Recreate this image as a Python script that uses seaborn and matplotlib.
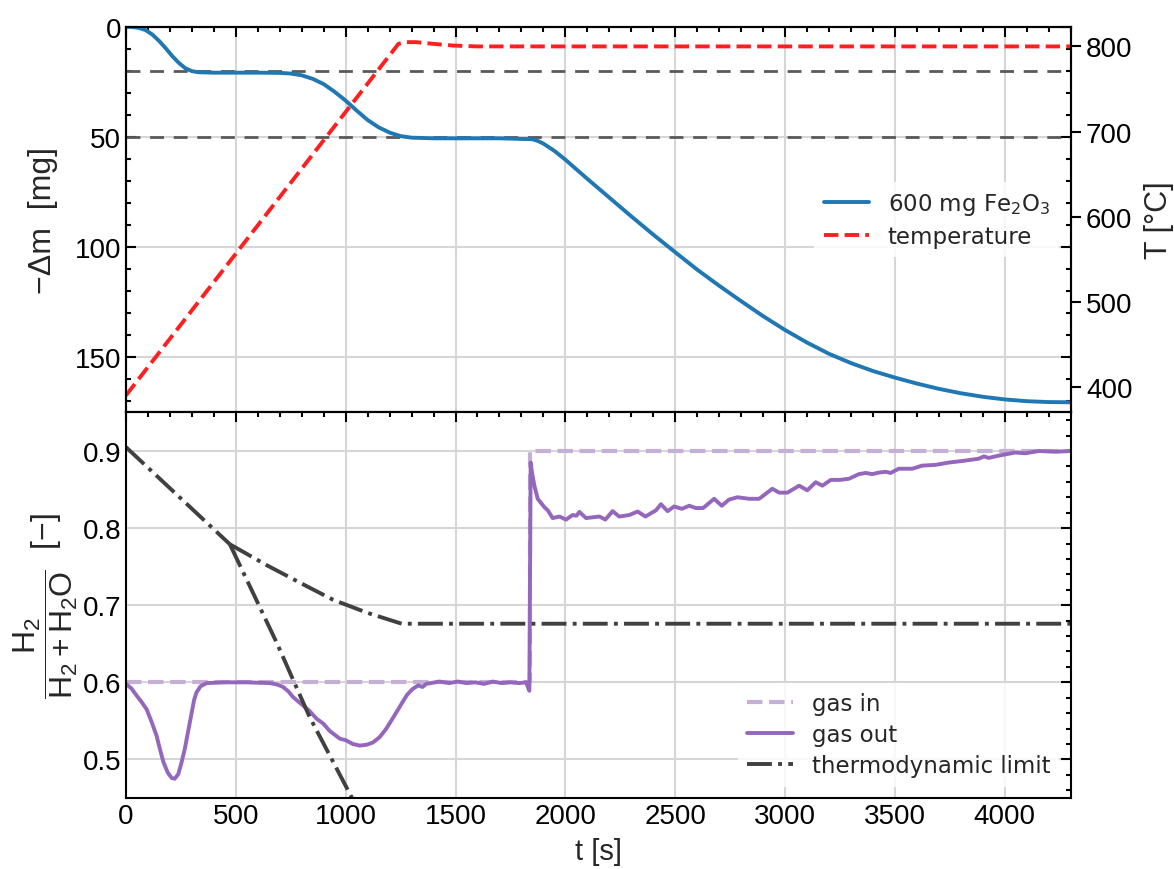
import matplotlib
matplotlib.use("Agg")
import matplotlib.pyplot as plt
from matplotlib.font_manager import FontProperties
from matplotlib.ticker import MultipleLocator
import pandas as pd
import seaborn as sns

# ---------------- data ----------------
# mass loss of the sample [mg]
t_mass = [0, 30, 60, 90, 120, 150, 180, 210, 240, 270, 300, 330, 400, 500, 600, 700,
          750, 800, 850, 900, 950, 1000, 1050, 1100, 1150, 1200, 1250, 1300, 1400, 1500,
          1700, 1850, 1875, 1900, 1950, 2000, 2100, 2200, 2300, 2400, 2500, 2600, 2700,
          2800, 2900, 3000, 3100, 3200, 3300, 3400, 3500, 3600, 3700, 3800, 3900, 4000,
          4100, 4200, 4300]
dm = [0, 0.1, 0.5, 1.5, 3.5, 6.3, 9.6, 13.2, 16.3, 18.8, 20.1, 20.6, 20.8, 20.8, 20.8,
      20.9, 21.2, 22, 23.6, 26, 29.5, 33.5, 38, 42.3, 45.6, 48, 49.6, 50.3, 50.6, 50.6,
      50.6, 51, 51.8, 53, 56.3, 60.3, 69, 77.5, 86, 94.3, 102.3, 110.2, 117.5,
      124.5, 131.3, 137.6, 143.3, 148.4, 152.6, 156.2, 159.2, 161.9, 164.3, 166.3, 167.9, 169.1,
      169.9, 170.3, 170.4]
ref_levels = [20, 50]

# furnace temperature [°C]
t_temp = [0, 1240, 1270, 1320, 1400, 1490, 1600, 4300]
temp = [390, 803, 805, 805, 803, 801, 800, 800]

# gas composition H2/(H2+H2O)
t_in = [0, 1838, 1838, 4300]
gas_in = [0.6, 0.6, 0.9, 0.9]

t_out = [0, 25, 48, 70, 94, 115, 139, 155, 170, 190, 208, 222, 238, 252, 268, 284, 299,
         310, 321, 340, 367, 450, 550, 655, 690, 715, 740, 760, 785, 806, 835, 867, 900,
         927, 950, 973, 1000, 1033, 1064, 1095, 1124, 1155, 1185, 1220, 1258, 1280, 1303,
         1330, 1350, 1367, 1427, 1470, 1510, 1550, 1590, 1630, 1670, 1710,
         1750, 1790, 1821, 1836, 1842, 1848, 1859, 1874, 1905, 1920, 1942, 1973, 2003,
         2033, 2050, 2064, 2094, 2125, 2155, 2182, 2215, 2245, 2270, 2291, 2329, 2364,
         2412, 2435, 2465, 2495, 2530, 2564, 2594, 2627, 2677, 2712, 2745, 2783, 2836,
         2882, 2942, 2973, 3011, 3064, 3101, 3139, 3170, 3208, 3250, 3291, 3336, 3367,
         3397, 3427, 3458, 3480, 3518, 3579, 3624, 3685, 3745, 3806, 3882, 3905, 3927,
         3973, 4048, 4094, 4155, 4230, 4300]
gas_out = [0.598, 0.592, 0.583, 0.575, 0.565, 0.550, 0.531, 0.513, 0.497, 0.483, 0.476,
           0.475, 0.481, 0.495, 0.514, 0.538, 0.561, 0.577, 0.587, 0.595, 0.599, 0.600,
           0.600, 0.599, 0.597, 0.594, 0.588, 0.581, 0.575, 0.570, 0.563, 0.553, 0.546,
           0.537, 0.532, 0.527, 0.525, 0.520, 0.518, 0.519, 0.522, 0.529, 0.540, 0.556,
           0.574, 0.584, 0.591, 0.596, 0.594, 0.598, 0.601, 0.599, 0.601, 0.599, 0.600,
           0.598, 0.601, 0.599, 0.600, 0.599, 0.600, 0.589, 0.885, 0.872, 0.855, 0.838,
           0.827, 0.823, 0.813, 0.815, 0.811, 0.817, 0.816, 0.821, 0.813, 0.814, 0.815,
           0.811, 0.822, 0.815, 0.816, 0.817, 0.8215, 0.815, 0.823, 0.831, 0.822, 0.828,
           0.825, 0.829, 0.826, 0.826, 0.838, 0.829, 0.837, 0.840, 0.838, 0.838, 0.851,
           0.846, 0.846, 0.855, 0.849, 0.8595, 0.855, 0.8625, 0.8625, 0.864, 0.870,
           0.8715, 0.870, 0.872, 0.873, 0.8715, 0.877, 0.877, 0.881, 0.882, 0.885, 0.887,
           0.890, 0.893, 0.891, 0.894, 0.898, 0.897, 0.900, 0.899, 0.900]

# thermodynamic limit, three branches
t_lim0 = [0, 473]
lim0 = [0.905, 0.779]
t_limA = [473, 640, 800, 943, 1100, 1255, 4300]
limA = [0.779, 0.752, 0.728, 0.707, 0.690, 0.676, 0.676]
t_limB = [473, 685, 836, 1018, 1045]
limB = [0.779, 0.652, 0.555, 0.456, 0.441]

# ---------------- style ----------------
sns.set_theme(style="whitegrid")
plt.rcParams["font.family"] = ["Liberation Sans", "DejaVu Sans"]
plt.rcParams.update({
    "axes.edgecolor": "black",
    "axes.linewidth": 1.5,
    "grid.color": "#d6d6d6",
    "grid.linewidth": 1.5,
    "xtick.color": "black",
    "ytick.color": "black",
    "xtick.labelsize": 20,
    "ytick.labelsize": 20,
    "axes.labelsize": 21,
    "mathtext.fontset": "custom",
    "mathtext.rm": "Liberation Sans",
    "mathtext.it": "Liberation Sans:italic",
    "mathtext.bf": "Liberation Sans:bold",
})

fig, (ax, axb) = plt.subplots(2, 1, figsize=(11.74, 8.7), dpi=100, sharex=True)
fig.subplots_adjust(left=0.1073, right=0.912, top=0.968, bottom=0.0816, hspace=0)

legend_font = FontProperties(family="DejaVu Sans", size=16.5, math_fontfamily="dejavusans")

# ---------------- top panel ----------------
mass_df = pd.DataFrame({"t": t_mass, "dm": dm})
for lvl in ref_levels:
    ax.axhline(lvl, color="0.35", lw=2, ls=(0, (5, 3.5)), zorder=2)
sns.lineplot(data=mass_df, x="t", y="dm", ax=ax, color="#1f77b4", lw=2.8,
             estimator=None, sort=False, legend=False, zorder=3)
blue_line = ax.lines[-1]

ax.set_ylim(175, 0)
ax.set_yticks([0, 50, 100, 150])
ax.yaxis.set_minor_locator(MultipleLocator(10))
ax.set_ylabel("−Δm  [mg]", fontsize=23, labelpad=12)
ax.set_xlabel("")

ax2 = ax.twinx()
temp_df = pd.DataFrame({"t": t_temp, "T": temp})
sns.lineplot(data=temp_df, x="t", y="T", ax=ax2, color="#ff1f1f", lw=2.8,
             linestyle="--", estimator=None, sort=False, legend=False)
red_line = ax2.lines[-1]
ax2.set_ylim(370, 823)
ax2.set_yticks([400, 500, 600, 700, 800])
ax2.grid(False)
ax2.set_ylabel("T [°C]", fontsize=22, labelpad=8)
ax2.tick_params(axis="y", direction="out", length=7, width=1.5, pad=4)

ax2.legend([blue_line, red_line], ["600 mg Fe$_2$O$_3$", "temperature"],
           loc="center right", prop=legend_font, frameon=True, framealpha=0.85,
           edgecolor="none", fancybox=False, labelspacing=0.35)

# ---------------- bottom panel ----------------
in_df = pd.DataFrame({"t": t_in, "v": gas_in})
out_df = pd.DataFrame({"t": t_out, "v": gas_out})
sns.lineplot(data=in_df, x="t", y="v", ax=axb, color="#c5b0d5", lw=3, linestyle="--",
             estimator=None, sort=False, legend=False)
h_in = axb.lines[-1]
sns.lineplot(data=out_df, x="t", y="v", ax=axb, color="#9467bd", lw=2.8,
             estimator=None, sort=False, legend=False)
h_out = axb.lines[-1]
for tt, vv in [(t_lim0, lim0), (t_limA, limA), (t_limB, limB)]:
    sns.lineplot(x=tt, y=vv, ax=axb, color="0.25", lw=2.8, linestyle="-.",
                 estimator=None, sort=False, legend=False)
h_lim = axb.lines[-1]

axb.set_ylim(0.45, 0.95)
axb.set_yticks([0.5, 0.6, 0.7, 0.8, 0.9])
axb.yaxis.set_minor_locator(MultipleLocator(0.02))
axb.set_xlim(0, 4300)
axb.xaxis.set_major_locator(MultipleLocator(500))
axb.xaxis.set_minor_locator(MultipleLocator(100))
axb.set_xlabel("t [s]", labelpad=6)
axb.set_ylabel(r"$\dfrac{\mathrm{H_2}}{\mathrm{H_2+H_2O}}$  [−]", fontsize=23, labelpad=2)

axb.legend([h_in, h_out, h_lim], ["gas in", "gas out", "thermodynamic limit"],
           loc="lower right", prop=legend_font, frameon=True, framealpha=0.85,
           edgecolor="none", fancybox=False, labelspacing=0.35)

for a in (ax, axb):
    a.grid(True, which="major")
    a.tick_params(which="both", direction="in", top=True, right=True, width=1.5)
    a.tick_params(which="major", length=7.5)
    a.tick_params(which="minor", length=3.5)
    for s in a.spines.values():
        s.set_color("black")
        s.set_linewidth(1.5)

fig.savefig("out.png", dpi=100)
